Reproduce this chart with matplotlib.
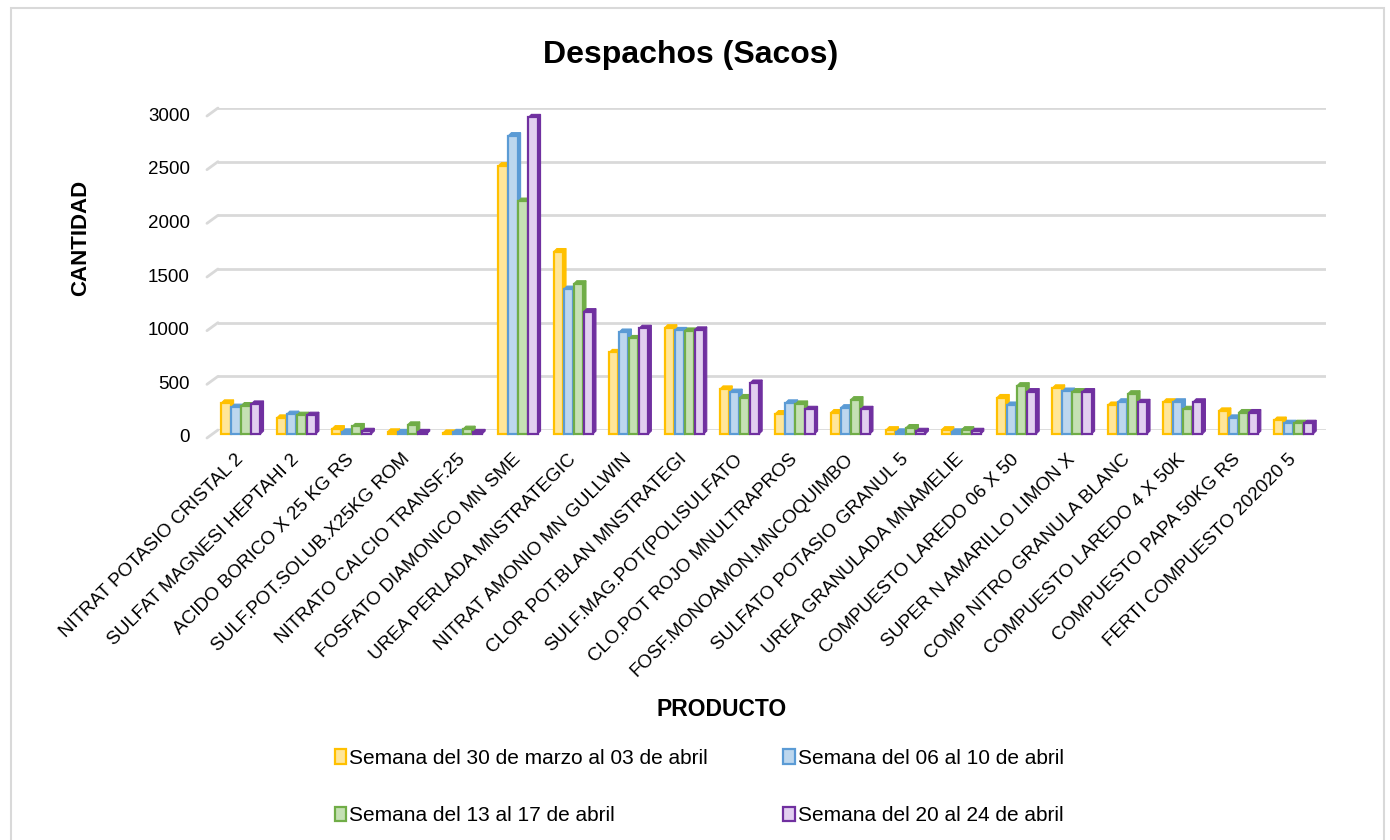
import numpy as np
import matplotlib.pyplot as plt
from matplotlib.patches import Rectangle
from matplotlib.transforms import ScaledTranslation

plt.rcParams['font.family'] = ['Liberation Sans', 'DejaVu Sans']

# ---------------------------------------------------------------------------
# Data
# ---------------------------------------------------------------------------
productos = [
    "NITRAT POTASIO CRISTAL 2", "SULFAT MAGNESI HEPTAHI 2", "ACIDO BORICO X 25 KG RS",
    "SULF.POT.SOLUB.X25KG ROM", "NITRATO CALCIO TRANSF.25", "FOSFATO DIAMONICO MN SME",
    "UREA PERLADA MNSTRATEGIC", "NITRAT AMONIO MN GULLWIN", "CLOR POT.BLAN MNSTRATEGI",
    "SULF.MAG.POT(POLISULFATO", "CLO.POT ROJO MNULTRAPROS", "FOSF.MONOAMON.MNCOQUIMBO",
    "SULFATO POTASIO GRANUL 5", "UREA GRANULADA MNAMELIE", "COMPUESTO LAREDO 06 X 50",
    "SUPER N AMARILLO LIMON X", "COMP NITRO GRANULA BLANC", "COMPUESTO LAREDO 4 X 50K",
    "COMPUESTO PAPA 50KG RS", "FERTI COMPUESTO 202020 5",
]

semanas = [
    "Semana del 30 de marzo al 03 de abril",
    "Semana del 06 al 10 de abril",
    "Semana del 13 al 17 de abril",
    "Semana del 20 al 24 de abril",
]

sem_30mar = [290, 150, 50, 20, 10, 2500, 1700, 760, 990, 420, 190, 200, 40, 40, 340, 430, 270, 300, 215, 130]
sem_06abr = [250, 185, 20, 15, 15, 2780, 1350, 950, 965, 390, 290, 245, 20, 20, 270, 400, 300, 300, 150, 100]
sem_13abr = [265, 175, 70, 85, 45, 2170, 1400, 890, 960, 340, 280, 320, 60, 40, 450, 395, 375, 230, 200, 100]
sem_20abr = [280, 175, 25, 15, 15, 2950, 1140, 985, 970, 475, 230, 230, 25, 25, 395, 395, 295, 300, 200, 100]

yticks = [0, 500, 1000, 1500, 2000, 2500, 3000]

series = [sem_30mar, sem_06abr, sem_13abr, sem_20abr]
face_colors = ["#FFE699", "#BDD7EE", "#C5E0B4", "#E2D0F0"]
edge_colors = ["#FFC000", "#5B9BD5", "#70AD47", "#7030A0"]
grid_color = "#D9D9D9"

# ---------------------------------------------------------------------------
# Figure
# ---------------------------------------------------------------------------
fig = plt.figure(figsize=(13.9, 8.4), dpi=100)
ax = fig.add_axes([0.1568, 0.4881, 0.7972, 0.3833])

# bars stand a little in front of the back wall (Excel 3-D look)
bar_tr = ax.transData + ScaledTranslation(0, -4 / 100, fig.dpi_scale_trans)

n = len(productos)
x = np.arange(n) + 0.5
step = 0.18          # spacing between bars in a cluster
bw = 0.165           # front face width
dx, dy = 0.055, 28   # pseudo-3D depth (data units)

for j, vals in enumerate(series):
    xs = x + (j - 1.5) * step
    z = 3 + j * 0.01
    for xc, v in zip(xs, vals):
        x0, x1 = xc - bw / 2, xc + bw / 2
        ax.fill([x1, x1, x1 + dx, x1 + dx], [0, v, v + dy, dy], transform=bar_tr,
                facecolor=edge_colors[j], edgecolor=edge_colors[j], lw=0.8,
                zorder=z, clip_on=False)
        ax.fill([x0, x0 + dx, x1 + dx, x1], [v, v + dy, v + dy, v], transform=bar_tr,
                facecolor=edge_colors[j], edgecolor=edge_colors[j], lw=0.8,
                zorder=z, clip_on=False)
    ax.bar(xs, vals, width=bw, color=face_colors[j], edgecolor=edge_colors[j],
           linewidth=1.6, zorder=z + 0.005, label=semanas[j], transform=bar_tr,
           clip_on=False)

ax.set_xlim(0.085, n + 0.085)
ax.set_ylim(0, 3000)
for s in ax.spines.values():
    s.set_visible(False)

# back-wall gridlines with a short slanted floor edge on the left
ax.set_yticks(yticks)
ax.yaxis.grid(True, color=grid_color, linewidth=2)
ax.set_axisbelow(True)
ax.set_yticklabels([])
ax.tick_params(axis='both', length=0)
for v in yticks:
    ax.annotate("", xy=(0, v), xycoords=('axes fraction', 'data'),
                xytext=(-11, -8), textcoords='offset pixels',
                arrowprops=dict(arrowstyle='-', color=grid_color, lw=2,
                                shrinkA=0, shrinkB=0), annotation_clip=False)
    ax.annotate(str(v), xy=(0, v), xycoords=('axes fraction', 'data'),
                xytext=(-28, -8), textcoords='offset pixels',
                ha='right', va='center', fontsize=13.5, annotation_clip=False)

ax.set_xticks(x)
ax.set_xticklabels(productos, rotation=45, ha='right', rotation_mode='anchor', fontsize=13.6)
ax.tick_params(axis='x', pad=15)
shift = ScaledTranslation(-6 / 100, 0, fig.dpi_scale_trans)
for lbl in ax.get_xticklabels():
    lbl.set_transform(lbl.get_transform() + shift)

fig.text(0.058, 0.717, "CANTIDAD", rotation=90, ha='center', va='center',
         fontsize=16, fontweight='bold')
fig.text(0.519, 0.155, "PRODUCTO", ha='center', va='center', fontsize=16.5, fontweight='bold')
fig.text(0.497, 0.935, "Despachos (Sacos)", ha='center', va='center', fontsize=23, fontweight='bold')

handles, labels = ax.get_legend_handles_labels()
order = [0, 2, 1, 3]
fig.legend([handles[i] for i in order], [labels[i] for i in order],
           ncol=2, loc='upper center', bbox_to_anchor=(0.503, 0.131),
           frameon=False, fontsize=15, handlelength=0.55, handleheight=0.7,
           handletextpad=0.15, columnspacing=3.6, labelspacing=1.85)

# light chart border
fig.patches.append(Rectangle((0.008, -0.01), 0.988, 1.0, transform=fig.transFigure,
                             fill=False, edgecolor=grid_color, linewidth=1.5))

fig.savefig("out.png", dpi=100)
